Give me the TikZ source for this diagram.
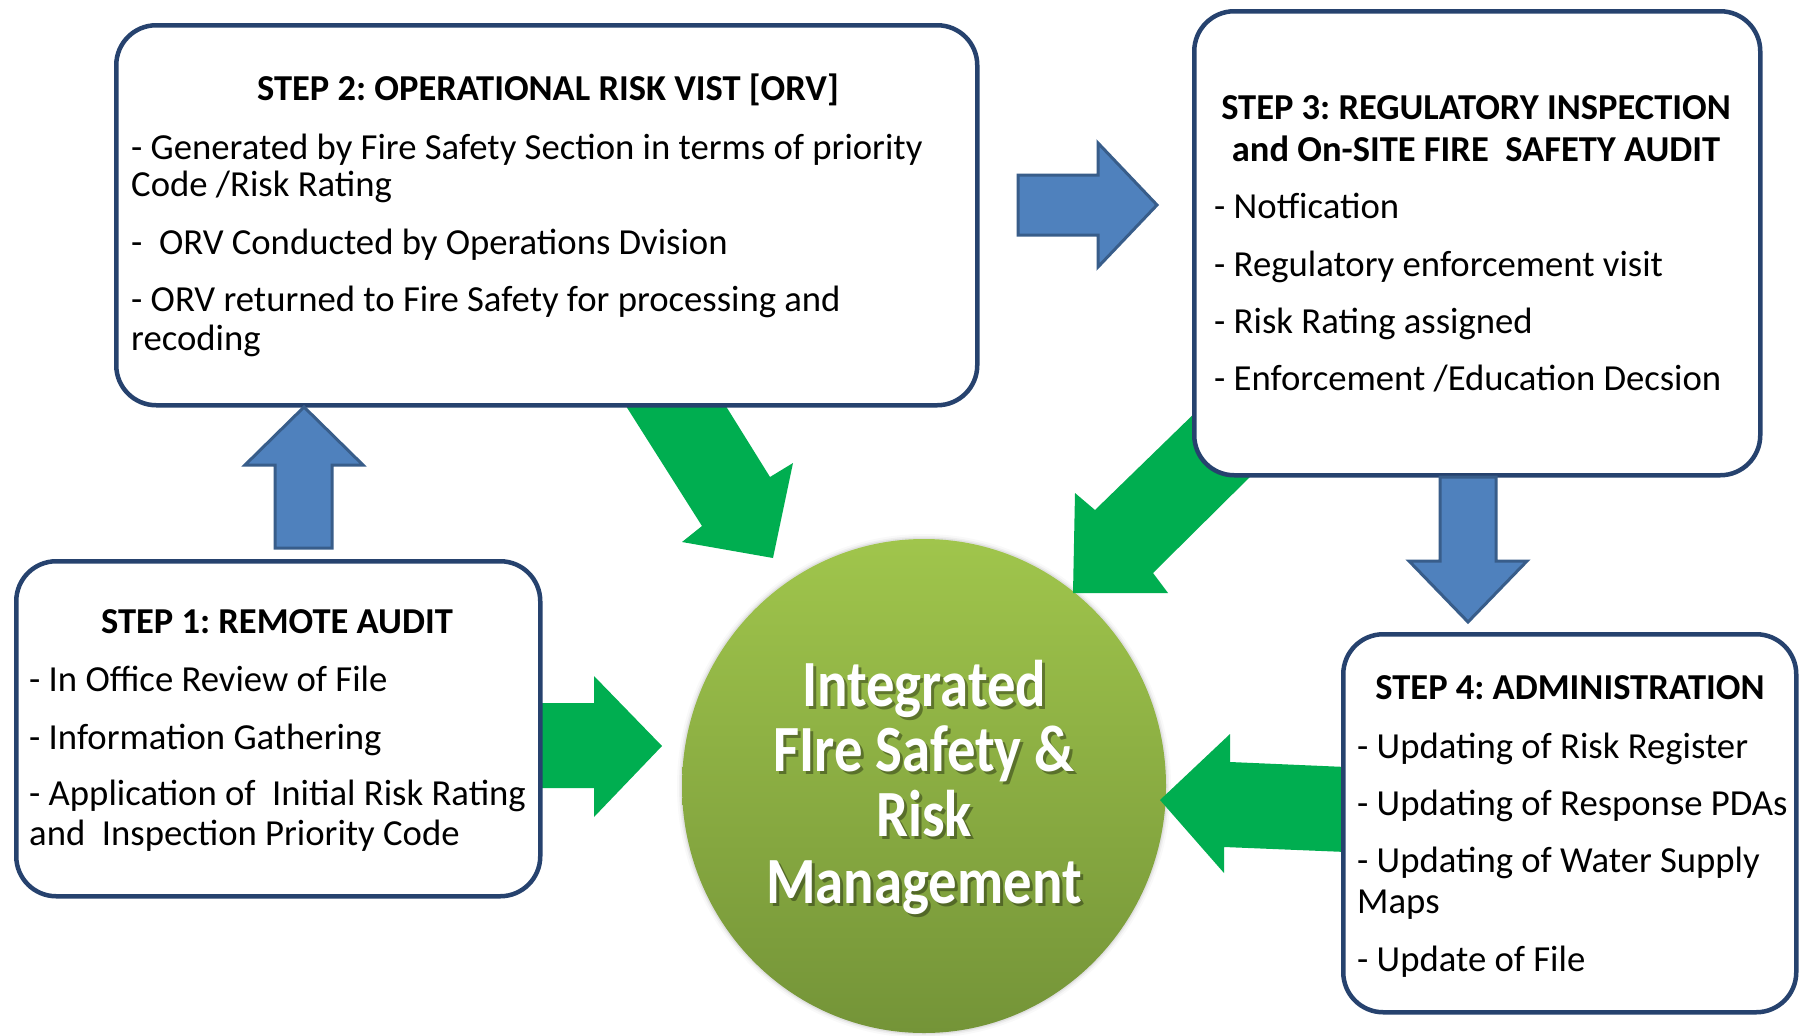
\documentclass[tikz,border=0pt]{standalone}
\usepackage{fontspec}
\setmainfont{Carlito}
\newfontfamily\circfont[FakeStretch=0.86]{Carlito}
\definecolor{boxblue}{RGB}{38,66,110}
\definecolor{arrgreen}{RGB}{0,174,80}
\definecolor{arrblue}{RGB}{79,129,189}
\definecolor{arrblueline}{RGB}{56,93,138}
\definecolor{circtop}{RGB}{160,197,76}
\definecolor{circbot}{RGB}{116,148,56}
\tikzset{
  boxstyle/.style={draw=boxblue, line width=4.5pt, fill=white, rounded corners=40pt, inner sep=0pt, anchor=north west},
  bodytxt/.style={font=\fontsize{36.7}{43}\selectfont, inner sep=0pt, anchor=base west},
  titletxt/.style={font=\bfseries\fontsize{36.5}{43}\selectfont, inner sep=0pt, anchor=base},
  circtxt/.style={font=\circfont\bfseries\fontsize{66}{66}\selectfont, inner sep=0pt, anchor=base, text=white},
  circshadow/.style={font=\circfont\bfseries\fontsize{66}{66}\selectfont, inner sep=0pt, anchor=base, text=black, opacity=0.35},
  greenarrow/.style={fill=arrgreen, draw=none},
  bluearrow/.style={fill=arrblue, draw=arrblueline, line width=3pt, line join=miter},
}
\begin{document}
\frenchspacing
\begin{tikzpicture}[x=1pt,y=-1pt]
\fill[white] (0,0) rectangle (1802,1036);
\useasboundingbox (0,0) rectangle (1802,1036);

% central circle with soft edge
\foreach \d/\o in {5/0.025,3/0.04,1.5/0.06}{
  \fill[black,opacity=\o] (924,786) ellipse ({242+\d} and {247+\d});
}
\shade[top color=circtop, bottom color=circbot] (924,786) ellipse (242 and 247);
\coordinate (circ) at (924,786);

% green arrows (under the boxes)
\fill[greenarrow] (538,703) -- (594,703) -- (594,676) -- (662,746) -- (594,817) -- (594,788) -- (538,788) -- cycle;
\fill[greenarrow] (619,395) -- (702,526) -- (682,542) -- (773,558) -- (793,463) -- (770,477) -- (719,395) -- cycle;
\fill[greenarrow] (1203,405) -- (1095,510) -- (1075,493) -- (1073,593) -- (1168,593) -- (1153,573) -- (1262,465) -- cycle;
\fill[greenarrow] (1346,767) -- (1230,762) -- (1230,734) -- (1160,800) -- (1224,873) -- (1224,847) -- (1346,852) -- cycle;

% boxes
\node[boxstyle, minimum width=861pt, minimum height=380pt] (s2) at (114,23) {};
\node[boxstyle, minimum width=566pt, minimum height=464pt] (s3) at (1192,9) {};
\node[boxstyle, minimum width=524pt, minimum height=335pt] (s1) at (14,559) {};
\node[boxstyle, minimum width=453pt, minimum height=378pt] (s4) at (1341,632) {};

% blue arrows
\draw[bluearrow] (275,548) -- (275,465) -- (245,465) -- (304,407) -- (363,465) -- (332,465) -- (332,548) -- cycle;
\draw[bluearrow] (1018,175) -- (1098,175) -- (1098,143) -- (1157,205) -- (1098,267) -- (1098,235) -- (1018,235) -- cycle;
\draw[bluearrow] (1440,477) -- (1496,477) -- (1496,561) -- (1527,561) -- (1468,622) -- (1409,561) -- (1440,561) -- cycle;

% step 2 text
\node[titletxt] (t2) at (548,100) {STEP 2: OPERATIONAL RISK VIST [ORV]};
\node[bodytxt] (t2a) at (131,159) {- Generated by Fire Safety Section in terms of priority};
\node[bodytxt] (t2b) at (131,196) {Code /Risk Rating};
\node[bodytxt] (t2c) at (131,254) {-\ \ ORV Conducted by Operations Dvision};
\node[bodytxt] (t2d) at (131,311) {- ORV returned to Fire Safety for processing and};
\node[bodytxt] (t2e) at (131,350) {recoding};

% step 3 text
\node[titletxt] (t3) at (1476,119) {STEP 3: REGULATORY INSPECTION};
\node[titletxt] (t3x) at (1476,161) {and On-SITE FIRE\ \ SAFETY AUDIT};
\node[bodytxt] (t3a) at (1214,218) {- Notfication};
\node[bodytxt] (t3b) at (1214,276) {- Regulatory enforcement visit};
\node[bodytxt] (t3c) at (1214,333) {- Risk Rating assigned};
\node[bodytxt] (t3d) at (1214,390) {- Enforcement /Education Decsion};

% step 1 text
\node[titletxt] (t1) at (277,633) {STEP 1: REMOTE AUDIT};
\node[bodytxt] (t1a) at (29,691) {- In Office Review of File};
\node[bodytxt] (t1b) at (29,749) {- Information Gathering};
\node[bodytxt] (t1c) at (29,805) {- Application of\ \ Initial Risk Rating};
\node[bodytxt] (t1d) at (29,845) {and\ \ Inspection Priority Code};

% step 4 text
\node[titletxt] (t4) at (1570,699) {STEP 4: ADMINISTRATION};
\node[bodytxt] (t4a) at (1357,758) {- Updating of Risk Register};
\node[bodytxt] (t4b) at (1357,815) {- Updating of Response PDAs};
\node[bodytxt] (t4c) at (1357,872) {- Updating of Water Supply};
\node[bodytxt] (t4d) at (1357,913) {Maps};
\node[bodytxt] (t4e) at (1357,971) {- Update of File};

% circle text
\foreach \txt/\yy/\nm in {Integrated/706/c1, FIre Safety \&/771/c2, Risk/836/c3, Management/903/c4}{
  \node[circshadow] at (927,\yy+3) {\txt};
  \node[circtxt] (\nm) at (924,\yy) {\txt};
}
\end{tikzpicture}
\end{document}
